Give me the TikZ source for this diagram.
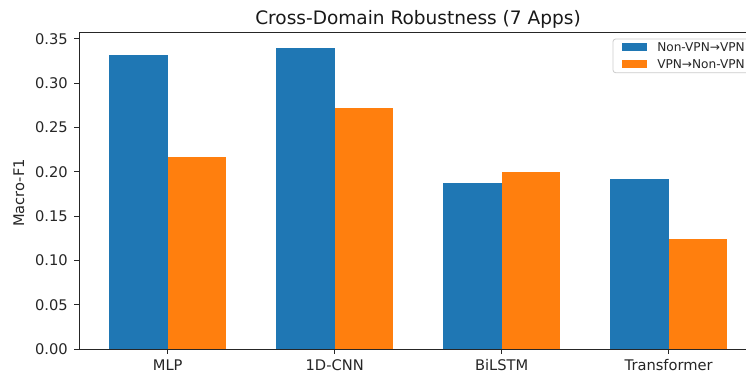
\documentclass[tikz,border=0pt]{standalone}
\usepackage{fontspec}
\setmainfont{DejaVu Sans}
\usetikzlibrary{calc}
\definecolor{mplblue}{HTML}{1F77B4}
\definecolor{mplorange}{HTML}{FF7F0E}
\definecolor{legendedge}{HTML}{CCCCCC}
\begin{document}
\begin{tikzpicture}[x=0.75pt,y=-0.75pt,
  spine/.style={draw=black!85,line width=0.6pt},
  tickmark/.style={draw=black!85,line width=0.6pt},
  ticklabel/.style={font=\fontsize{11}{13}\selectfont,text=black!85,inner sep=0pt},
  bluebar/.style={fill=mplblue,draw=none},
  orangebar/.style={fill=mplorange,draw=none},
  legtext/.style={font=\fontsize{9.1}{11}\selectfont,text=black!85,inner sep=0pt,anchor=west},
]
\useasboundingbox (0,0) rectangle (746,375);
\fill[white] (0,0) rectangle (746,375);

% value v sits at y = 349 - 886 v ; group centres 167 px apart
\def\base{349}
\def\yscale{886}
\def\bw{58.5}

% bars: centre, blue value, orange value
\foreach \c/\bv/\ov [count=\i] in {167.7/0.3318/0.2170, 334.7/0.3400/0.2717, 501.7/0.1877/0.1994, 668.7/0.1919/0.1240}{
  \path[bluebar] (\c-\bw,\base) rectangle (\c,{\base-\yscale*\bv});
  \path[orangebar] (\c,\base) rectangle (\c+\bw,{\base-\yscale*\ov});
}

% spines (the right one lies outside the page)
\draw[spine] (79,32.7) coordinate (tl) -- (79,\base) coordinate (bl) -- (757,\base) coordinate (br);
\draw[spine] (tl) -- (757,32.7);

% y ticks
\foreach \v/\lab in {0/0.00,0.05/0.05,0.10/0.10,0.15/0.15,0.20/0.20,0.25/0.25,0.30/0.30,0.35/0.35}{
  \coordinate (yt) at (79,{\base-\yscale*\v});
  \draw[tickmark] (yt) -- ++(-4.7,0);
  \node[ticklabel,anchor=east] at ($(yt)+(-11,0)$) {\lab};
}

% x ticks
\foreach \c/\lab in {167.7/MLP,334.7/1D-CNN,501.7/BiLSTM,668.7/Transformer}{
  \coordinate (xt) at (\c,\base);
  \draw[tickmark] (xt) -- ++(0,4.7);
  \node[ticklabel,anchor=base] at ($(xt)+(0,21.7)$) {\lab};
}

% axis label and title
\node[ticklabel,rotate=90] (ylab) at (19,193) {Macro-F1};
\node[font=\fontsize{13.9}{16}\selectfont,text=black!90,inner sep=0pt,anchor=base] (title) at (418,24.3) {Cross-Domain Robustness (7 Apps)};

% legend
\draw[legendedge,fill=white,rounded corners=2pt,line width=0.6pt] (613,39) rectangle (770,72.7);
\path[bluebar] (622,43) rectangle (647,50.5);
\path[orangebar] (622,60) rectangle (647,67.5);
\node[legtext] (l1) at (657,46.7) {Non-VPN→VPN};
\node[legtext] (l2) at (657,63.7) {VPN→Non-VPN};
\end{tikzpicture}
\end{document}
